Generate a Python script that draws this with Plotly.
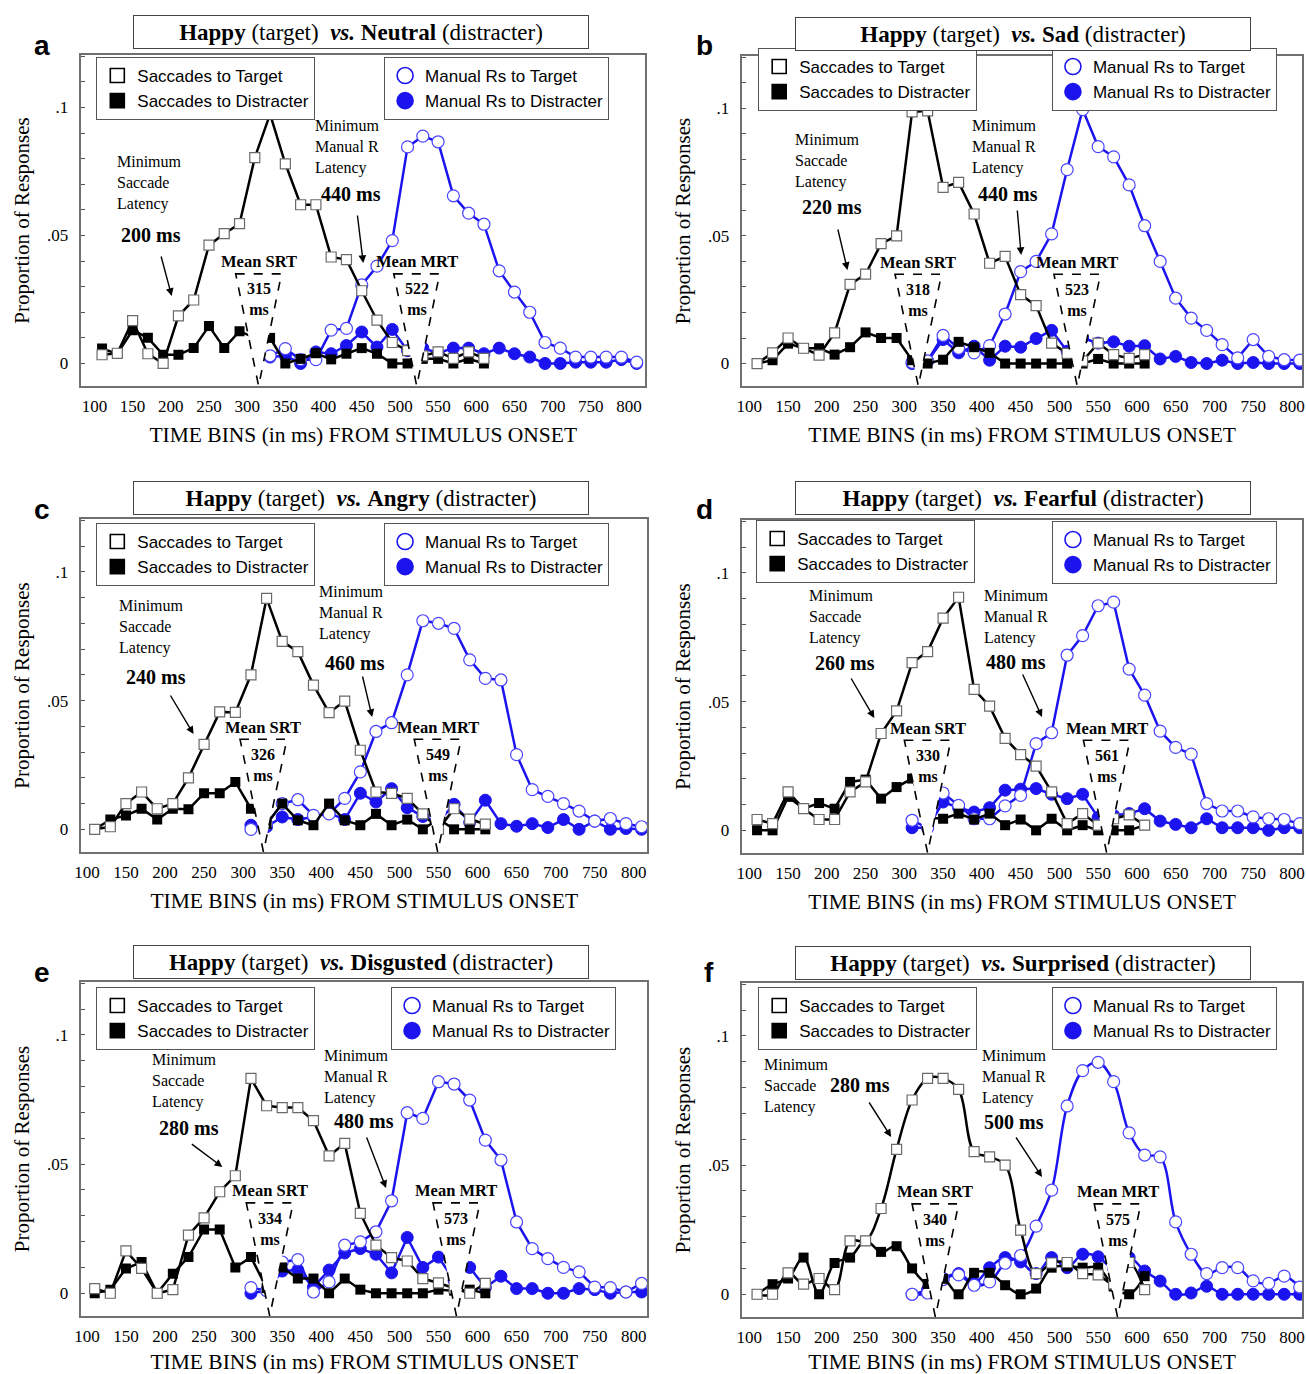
import plotly.graph_objects as go

# ---------------- data (proportion of responses per 20-ms time bin) ----------------
TIME_BINS = [110, 130, 150, 170, 190, 210, 230, 250, 270, 290, 310, 330, 350, 370, 390, 410, 430, 450,
             470, 490, 510, 530, 550, 570, 590, 610, 630, 650, 670, 690, 710, 730, 750, 770, 790, 810]
SACC_BINS = TIME_BINS[:26]          # 110 .. 610
MAN_BINS = TIME_BINS[10:]           # 310 .. 810
MAN_BINS_A = TIME_BINS[11:]         # 330 .. 810

X_TICKS = [100, 150, 200, 250, 300, 350, 400, 450, 500, 550, 600, 650, 700, 750, 800]
Y_TICKS = [0, 0.01, 0.02, 0.03, 0.04, 0.05, 0.06, 0.07, 0.08, 0.09, 0.1, 0.11, 0.12]
Y_TICKTEXT = ["0", "", "", "", "", ".05", "", "", "", "", ".1", "", ""]

DISTRACTERS = ["Neutral", "Sad", "Angry", "Fearful", "Disgusted", "Surprised"]
MEAN_SRT = [315, 318, 326, 330, 334, 340]
MEAN_MRT = [522, 523, 549, 561, 573, 575]
MIN_SACC = [200, 220, 240, 260, 280, 280]
MIN_MAN = [440, 440, 460, 480, 480, 500]

A_SACC_T = [0.0034, 0.004, 0.0167, 0.0038, 0.0, 0.0186, 0.0248, 0.0462, 0.0507, 0.0546, 0.0804, 0.0974, 0.078,
            0.062, 0.062, 0.0416, 0.0406, 0.0284, 0.0169, 0.0082, 0.005, 0.003, 0.0045, 0.002, 0.0045, 0.002]
A_SACC_D = [0.0058, 0.0038, 0.013, 0.010, 0.0034, 0.0034, 0.006, 0.0146, 0.006, 0.0126, 0.010, 0.010, 0.0,
            0.0018, 0.0040, 0.0016, 0.0038, 0.006, 0.0038, 0.0, 0.0, 0.0018, 0.0018, 0.0, 0.0018, 0.0]
A_MAN_T = [0.003, 0.0058, 0.0015, 0.0015, 0.013, 0.0137, 0.0307, 0.038, 0.048, 0.0846, 0.0888, 0.0866, 0.0655,
           0.0587, 0.0544, 0.0362, 0.0279, 0.020, 0.0082, 0.006, 0.0025, 0.0025, 0.0025, 0.0025, 0.0005]
A_MAN_D = [0.0025, 0.003, 0.0, 0.0045, 0.0038, 0.007, 0.0123, 0.0064, 0.0133, 0.005, 0.006, 0.004, 0.006,
           0.006, 0.0038, 0.006, 0.0038, 0.0025, 0.0, 0.0, 0.0005, 0.0005, 0.0005, 0.0015, 0.0]

B_SACC_T = [0.0, 0.0042, 0.010, 0.006, 0.0033, 0.012, 0.031, 0.035, 0.047, 0.050, 0.0986, 0.099, 0.069,
            0.071, 0.0586, 0.0393, 0.042, 0.027, 0.0227, 0.008, 0.004, 0.001, 0.008, 0.0035, 0.002, 0.0035]
B_SACC_D = [0.0, 0.0013, 0.0078, 0.006, 0.006, 0.0035, 0.0064, 0.0122, 0.010, 0.010, 0.0013, 0.0, 0.0015,
            0.0085, 0.0064, 0.0042, 0.0, 0.0, 0.0, 0.0, 0.0, 0.0, 0.0018, 0.0, 0.0, 0.0]
B_MAN_T = [0.0005, 0.001, 0.011, 0.006, 0.0042, 0.007, 0.0194, 0.036, 0.040, 0.0508, 0.076, 0.0995, 0.085,
           0.081, 0.070, 0.054, 0.040, 0.0256, 0.0178, 0.013, 0.0074, 0.0022, 0.0094, 0.0028, 0.0015, 0.0013]
B_MAN_D = [0.0, 0.001, 0.0094, 0.0042, 0.0068, 0.0013, 0.0068, 0.0064, 0.0098, 0.013, 0.0048, 0.010, 0.008,
           0.0085, 0.0068, 0.007, 0.0018, 0.0028, 0.0004, 0.0, 0.0013, 0.0, 0.0004, 0.0, 0.0, 0.0]

C_SACC_T = [0.0, 0.001, 0.010, 0.0145, 0.008, 0.010, 0.020, 0.033, 0.0456, 0.0454, 0.060, 0.0897, 0.073,
            0.069, 0.056, 0.0453, 0.0498, 0.0307, 0.0145, 0.014, 0.012, 0.006, 0.0, 0.008, 0.004, 0.002]
C_SACC_D = [0.0, 0.0038, 0.0054, 0.008, 0.0038, 0.008, 0.0078, 0.014, 0.014, 0.0184, 0.008, 0.002, 0.010,
            0.0035, 0.0016, 0.010, 0.0035, 0.0016, 0.006, 0.0016, 0.0038, 0.0, 0.004, 0.0, 0.0, 0.0]
C_MAN_T = [0.0, 0.002, 0.010, 0.0115, 0.0054, 0.006, 0.012, 0.0223, 0.038, 0.0414, 0.060, 0.081, 0.080,
           0.078, 0.0658, 0.0586, 0.058, 0.029, 0.0154, 0.0128, 0.010, 0.0071, 0.0032, 0.0042, 0.0022, 0.001]
C_MAN_D = [0.0016, 0.001, 0.0048, 0.0038, 0.0048, 0.0063, 0.0038, 0.014, 0.0106, 0.0158, 0.0084, 0.005, 0.003,
           0.0097, 0.0027, 0.0113, 0.0022, 0.0012, 0.0022, 0.0007, 0.0038, 0.0, 0.0032, 0.0, 0.0003, 0.0]

D_SACC_T = [0.0042, 0.0026, 0.0149, 0.0084, 0.0042, 0.0042, 0.0149, 0.0188, 0.0376, 0.0464, 0.0651, 0.0694,
            0.0824, 0.0905, 0.0547, 0.0482, 0.0357, 0.0294, 0.0249, 0.0149, 0.0026, 0.0065, 0.002, 0.0045,
            0.006, 0.002]
D_SACC_D = [0.0, 0.0, 0.013, 0.0084, 0.0106, 0.0084, 0.0188, 0.0197, 0.0123, 0.0168, 0.0201, 0.005, 0.0045,
            0.0065, 0.0042, 0.0065, 0.002, 0.0042, 0.0, 0.0045, 0.0, 0.002, 0.0, 0.0, 0.0, 0.002]
D_MAN_T = [0.0039, 0.001, 0.0145, 0.0097, 0.0045, 0.0045, 0.0095, 0.0136, 0.0337, 0.0379, 0.068, 0.0756,
           0.0872, 0.0886, 0.0626, 0.0525, 0.0385, 0.0322, 0.0296, 0.0104, 0.0075, 0.0075, 0.0052, 0.0045,
           0.0042, 0.0026]
D_MAN_D = [0.001, 0.001, 0.011, 0.0088, 0.0071, 0.0088, 0.0156, 0.016, 0.0162, 0.014, 0.0123, 0.014, 0.005,
           0.0058, 0.0065, 0.0084, 0.0036, 0.0023, 0.001, 0.0045, 0.001, 0.001, 0.001, 0.0, 0.001, 0.001]

E_SACC_T = [0.0018, 0.0, 0.0164, 0.0096, 0.0, 0.0014, 0.0225, 0.0292, 0.0393, 0.0455, 0.0832, 0.0726, 0.0719,
            0.0719, 0.0668, 0.0532, 0.058, 0.0309, 0.0186, 0.0138, 0.0125, 0.0057, 0.004, 0.002, 0.0, 0.0038]
E_SACC_D = [0.0, 0.0014, 0.0096, 0.0121, 0.0, 0.0076, 0.014, 0.0247, 0.0247, 0.010, 0.014, 0.002, 0.010,
            0.0057, 0.0057, 0.0, 0.0057, 0.0014, 0.0, 0.0, 0.0, 0.0, 0.0014, 0.001, 0.0014, 0.0]
E_MAN_T = [0.0022, 0.001, 0.0121, 0.013, 0.0005, 0.0044, 0.0186, 0.0199, 0.0238, 0.0358, 0.0699, 0.0677,
           0.0819, 0.081, 0.0748, 0.0593, 0.0516, 0.0276, 0.0173, 0.0134, 0.010, 0.0083, 0.0024, 0.0022,
           0.0005, 0.0038]
E_MAN_D = [0.0, 0.001, 0.0086, 0.009, 0.0024, 0.009, 0.0156, 0.0173, 0.0151, 0.0079, 0.0216, 0.010, 0.014,
           0.005, 0.010, 0.0022, 0.0066, 0.0018, 0.0018, 0.0, 0.0, 0.0018, 0.0014, 0.0, 0.0005, 0.0005]

F_SACC_T = [0.0, 0.0, 0.0083, 0.0039, 0.0061, 0.0018, 0.0207, 0.0207, 0.0332, 0.0561, 0.0752, 0.0836, 0.0836,
            0.0793, 0.0552, 0.0532, 0.050, 0.0248, 0.008, 0.0121, 0.0123, 0.008, 0.0075, 0.004, 0.0123, 0.0018]
F_SACC_D = [0.0, 0.0039, 0.0061, 0.0142, 0.0, 0.0121, 0.0142, 0.0207, 0.0164, 0.0186, 0.010, 0.004, 0.006,
            0.0, 0.0083, 0.0083, 0.0035, 0.0, 0.0022, 0.0103, 0.0108, 0.0103, 0.0103, 0.003, 0.0, 0.007]
F_MAN_T = [0.0, 0.0005, 0.0057, 0.0075, 0.0035, 0.0048, 0.012, 0.015, 0.0264, 0.0403, 0.0729, 0.0866, 0.0898,
           0.0823, 0.0625, 0.0539, 0.0532, 0.028, 0.0155, 0.008, 0.0103, 0.0103, 0.0052, 0.0042, 0.007, 0.0028]
F_MAN_D = [0.0, 0.0018, 0.0061, 0.008, 0.0043, 0.0103, 0.0142, 0.0125, 0.008, 0.0142, 0.0103, 0.0155, 0.0145,
           0.010, 0.0142, 0.009, 0.0051, 0.0, 0.0005, 0.0031, 0.0, 0.0, 0.0, 0.0, 0.0, 0.0]

# ---------------- layout geometry (pixels of the 1306 x 1374 page) ----------------
W, H = 1306, 1374


def px(x):
    return x / W


def py(y):
    return 1 - y / H


SERIF = "Liberation Serif"
SANS = "Liberation Sans"
BLUE = "#1c14ee"
BLUE_EDGE = "#4a44ff"

PANELS = [
    dict(letter="a", sacc_t=A_SACC_T, sacc_d=A_SACC_D, man_t=A_MAN_T, man_d=A_MAN_D, man_x=MAN_BINS_A,
         box=(75, 643, 55, 386), xr=[83, 821], title_c=(357, 32), letter_c=(35, 45),
         leg1=(90, 57), leg2=(380, 57),
         ms_txt=(109, 151), ms_val=(145, 235), ms_arrow=((155, 255), (166, 296)),
         mm_txt=(308, 115), mm_val=(347, 194), mm_arrow=((353, 214), (359, 263)), shape="linear"),
    dict(letter="b", sacc_t=B_SACC_T, sacc_d=B_SACC_D, man_t=B_MAN_T, man_d=B_MAN_D, man_x=MAN_BINS,
         box=(741, 1305, 56, 386), xr=[91, 813], title_c=(1024, 34), letter_c=(703, 45),
         leg1=(757, 48), leg2=(1053, 48),
         ms_txt=(792, 129), ms_val=(831, 207), ms_arrow=((837, 228), (847, 270)),
         mm_txt=(970, 115), mm_val=(1009, 194), mm_arrow=((1018, 209), (1022, 255)), shape="linear"),
    dict(letter="c", sacc_t=C_SACC_T, sacc_d=C_SACC_D, man_t=C_MAN_T, man_d=C_MAN_D, man_x=MAN_BINS,
         box=(75, 645, 519, 852), xr=[93, 817], title_c=(357, 498), letter_c=(35, 510),
         leg1=(90, 523), leg2=(380, 523),
         ms_txt=(111, 595), ms_val=(150, 677), ms_arrow=((164, 694), (188, 734)),
         mm_txt=(312, 581), mm_val=(351, 663), mm_arrow=((358, 675), (368, 717)), shape="linear"),
    dict(letter="d", sacc_t=D_SACC_T, sacc_d=D_SACC_D, man_t=D_MAN_T, man_d=D_MAN_D, man_x=MAN_BINS,
         box=(741, 1305, 520, 853), xr=[91, 813], title_c=(1024, 498), letter_c=(703, 510),
         leg1=(755, 520), leg2=(1053, 521),
         ms_txt=(806, 585), ms_val=(844, 663), ms_arrow=((850, 677), (874, 718)),
         mm_txt=(983, 585), mm_val=(1017, 662), mm_arrow=((1023, 673), (1043, 717)), shape="linear"),
    dict(letter="e", sacc_t=E_SACC_T, sacc_d=E_SACC_D, man_t=E_MAN_T, man_d=E_MAN_D, man_x=MAN_BINS,
         box=(75, 645, 982, 1316), xr=[93, 817], title_c=(357, 962), letter_c=(35, 972),
         leg1=(90, 987), leg2=(387, 987),
         ms_txt=(144, 1049), ms_val=(183, 1128), ms_arrow=((185, 1143), (217, 1167)),
         mm_txt=(317, 1045), mm_val=(360, 1121), mm_arrow=((362, 1136), (382, 1188)), shape="linear"),
    dict(letter="f", sacc_t=F_SACC_T, sacc_d=F_SACC_D, man_t=F_MAN_T, man_d=F_MAN_D, man_x=MAN_BINS,
         box=(741, 1305, 983, 1317), xr=[91, 813], title_c=(1024, 963), letter_c=(707, 972),
         leg1=(757, 987), leg2=(1053, 987),
         ms_txt=(761, 1054), ms_val=(860, 1085), ms_arrow=((868, 1101), (891, 1137)),
         mm_txt=(981, 1045), mm_val=(1015, 1122), mm_arrow=((1016, 1136), (1043, 1177)), shape="spline"),
]

Y_RANGE = [-0.0088, 0.1205]

fig = go.Figure()
layout = dict(width=W, height=H, margin=dict(l=0, r=0, t=0, b=0),
              paper_bgcolor="white", plot_bgcolor="white",
              font=dict(family=SERIF, color="black"), showlegend=True)
shapes = []
annotations = []

for i, p in enumerate(PANELS):
    n = i + 1
    xa = "x" if n == 1 else f"x{n}"
    ya = "y" if n == 1 else f"y{n}"
    xkey = "xaxis" if n == 1 else f"xaxis{n}"
    ykey = "yaxis" if n == 1 else f"yaxis{n}"
    L, R, T, B = p["box"]

    layout[xkey] = dict(domain=[px(L), px(R)], anchor=ya, range=p["xr"],
                        tickvals=X_TICKS, ticktext=[str(v) for v in X_TICKS],
                        showline=True, mirror=True, linecolor="#707070", linewidth=1.5,
                        showgrid=False, zeroline=False, ticks="", ticklabelstandoff=4,
                        ticklabeloverflow="allow",
                        tickfont=dict(family=SERIF, size=17, color="black"),
                        title=dict(text="TIME BINS (in ms) FROM STIMULUS ONSET",
                                   font=dict(family=SERIF, size=21.5, color="black"), standoff=12))
    layout[ykey] = dict(domain=[py(B), py(T)], anchor=xa, range=Y_RANGE,
                        tickvals=Y_TICKS, ticktext=Y_TICKTEXT,
                        ticks="inside", ticklen=4, tickcolor="#555", tickwidth=1,
                        showline=True, mirror=True, linecolor="#707070", linewidth=1.5,
                        showgrid=False, zeroline=False, ticklabelstandoff=8,
                        tickfont=dict(family=SERIF, size=17, color="black"),
                        title=dict(text="Proportion of Responses",
                                   font=dict(family=SERIF, size=21, color="black"), standoff=12))

    leg_s = "legend" if 2 * i + 1 == 1 else f"legend{2 * i + 1}"
    leg_m = f"legend{2 * i + 2}"

    # data traces
    fig.add_trace(go.Scatter(x=p["man_x"], y=p["man_d"], mode="lines+markers", xaxis=xa, yaxis=ya,
                             line=dict(color=BLUE, width=2.5, shape=p["shape"]),
                             marker=dict(symbol="circle", size=12, color=BLUE, line=dict(color=BLUE, width=1)),
                             showlegend=False, name="Manual Rs to Distracter"))
    fig.add_trace(go.Scatter(x=p["man_x"], y=p["man_t"], mode="lines+markers", xaxis=xa, yaxis=ya,
                             line=dict(color=BLUE, width=2.5, shape=p["shape"]),
                             marker=dict(symbol="circle", size=12, color="white",
                                         line=dict(color=BLUE_EDGE, width=1.2)),
                             showlegend=False, name="Manual Rs to Target"))
    fig.add_trace(go.Scatter(x=SACC_BINS, y=p["sacc_d"], mode="lines+markers", xaxis=xa, yaxis=ya,
                             line=dict(color="black", width=2.5, shape=p["shape"]),
                             marker=dict(symbol="square", size=10, color="black"),
                             showlegend=False, name="Saccades to Distracter"))
    fig.add_trace(go.Scatter(x=SACC_BINS, y=p["sacc_t"], mode="lines+markers", xaxis=xa, yaxis=ya,
                             line=dict(color="black", width=2.5, shape=p["shape"]),
                             marker=dict(symbol="square", size=10, color="white",
                                         line=dict(color="#6a6a6a", width=1.2)),
                             showlegend=False, name="Saccades to Target"))

    # legend entries (markers only)
    for name, sym, col, lg in [("Saccades to Target", "square-open", "black", leg_s),
                               ("Saccades to Distracter", "square", "black", leg_s),
                               ("Manual Rs to Target", "circle-open", BLUE, leg_m),
                               ("Manual Rs to Distracter", "circle", BLUE, leg_m)]:
        size = 14 if "square" in sym else 16
        fig.add_trace(go.Scatter(x=[None], y=[None], mode="markers", xaxis=xa, yaxis=ya, name=name,
                                 marker=dict(symbol=sym, size=size, color=col, line=dict(color=col, width=1.6)),
                                 legend=lg, showlegend=True))
    for lg, pos in [(leg_s, p["leg1"]), (leg_m, p["leg2"])]:
        layout[lg] = dict(x=px(pos[0]), y=py(pos[1]), xanchor="left", yanchor="top",
                          bordercolor="#555", borderwidth=1, bgcolor="white",
                          font=dict(family=SANS, size=17, color="black"),
                          itemwidth=30, tracegroupgap=0, traceorder="normal")

    # mean latency triangles
    for m, lab in [(MEAN_SRT[i], "Mean SRT"), (MEAN_MRT[i], "Mean MRT")]:
        shapes.append(dict(type="path", xref=xa, yref=ya, layer="above",
                           path=f"M {m - 30},0.035 L {m + 30},0.035 L {m},{Y_RANGE[0]} Z",
                           line=dict(color="black", width=1.6, dash="dash"), fillcolor="white"))
        annotations.append(dict(xref=xa, yref=ya, x=m, y=0.0397, text=f"<b>{lab}</b>", showarrow=False,
                                font=dict(family=SERIF, size=16.5, color="black"), xanchor="center",
                                yanchor="middle"))
        annotations.append(dict(xref=xa, yref=ya, x=m, y=0.025, text=f"<b>{m}<br>ms</b>", showarrow=False,
                                font=dict(family=SERIF, size=16, color="black"), xanchor="center",
                                yanchor="middle"))

    # minimum latency notes
    annotations.append(dict(xref="paper", yref="paper", x=px(p["ms_txt"][0]), y=py(p["ms_txt"][1]),
                            text="Minimum<br>Saccade<br>Latency", showarrow=False, align="left",
                            xanchor="left", yanchor="top", font=dict(family=SERIF, size=16, color="black")))
    annotations.append(dict(xref="paper", yref="paper", x=px(p["ms_val"][0]), y=py(p["ms_val"][1]),
                            text=f"<b>{MIN_SACC[i]} ms</b>", showarrow=False, xanchor="center",
                            yanchor="middle", font=dict(family=SERIF, size=20, color="black")))
    annotations.append(dict(xref="paper", yref="paper", x=px(p["mm_txt"][0]), y=py(p["mm_txt"][1]),
                            text="Minimum<br>Manual R<br>Latency", showarrow=False, align="left",
                            xanchor="left", yanchor="top", font=dict(family=SERIF, size=16, color="black")))
    annotations.append(dict(xref="paper", yref="paper", x=px(p["mm_val"][0]), y=py(p["mm_val"][1]),
                            text=f"<b>{MIN_MAN[i]} ms</b>", showarrow=False, xanchor="center",
                            yanchor="middle", font=dict(family=SERIF, size=20, color="black")))
    for (tail, tip) in [p["ms_arrow"], p["mm_arrow"]]:
        annotations.append(dict(xref="paper", yref="paper", x=px(tip[0]), y=py(tip[1]),
                                ax=tail[0] - tip[0], ay=tail[1] - tip[1], axref="pixel", ayref="pixel",
                                text="", showarrow=True, arrowhead=2, arrowsize=1.1, arrowwidth=1.4,
                                arrowcolor="black", standoff=0, startstandoff=0))

    # panel title box and letter
    nb = "\u00a0"
    annotations.append(dict(xref="paper", yref="paper", x=px(p["title_c"][0]), y=py(p["title_c"][1]),
                            text=f"<b>Happy</b> (target){nb}{nb}<b><i>vs.</i></b> <b>{DISTRACTERS[i]}</b> (distracter)",
                            showarrow=False, xanchor="center", yanchor="middle", width=452, height=30,
                            bordercolor="#444", borderwidth=1, borderpad=1, bgcolor="white",
                            font=dict(family=SERIF, size=23, color="black")))
    annotations.append(dict(xref="paper", yref="paper", x=px(p["letter_c"][0]), y=py(p["letter_c"][1]),
                            text=f"<b>{p['letter']}</b>", showarrow=False, xanchor="center", yanchor="middle",
                            font=dict(family=SANS, size=28, color="black")))

layout["shapes"] = shapes
layout["annotations"] = annotations
fig.update_layout(**layout)
fig.write_html("out.html", config={"displayModeBar": False},
               post_script="document.body.style.margin='0';document.body.style.overflow='hidden';")
